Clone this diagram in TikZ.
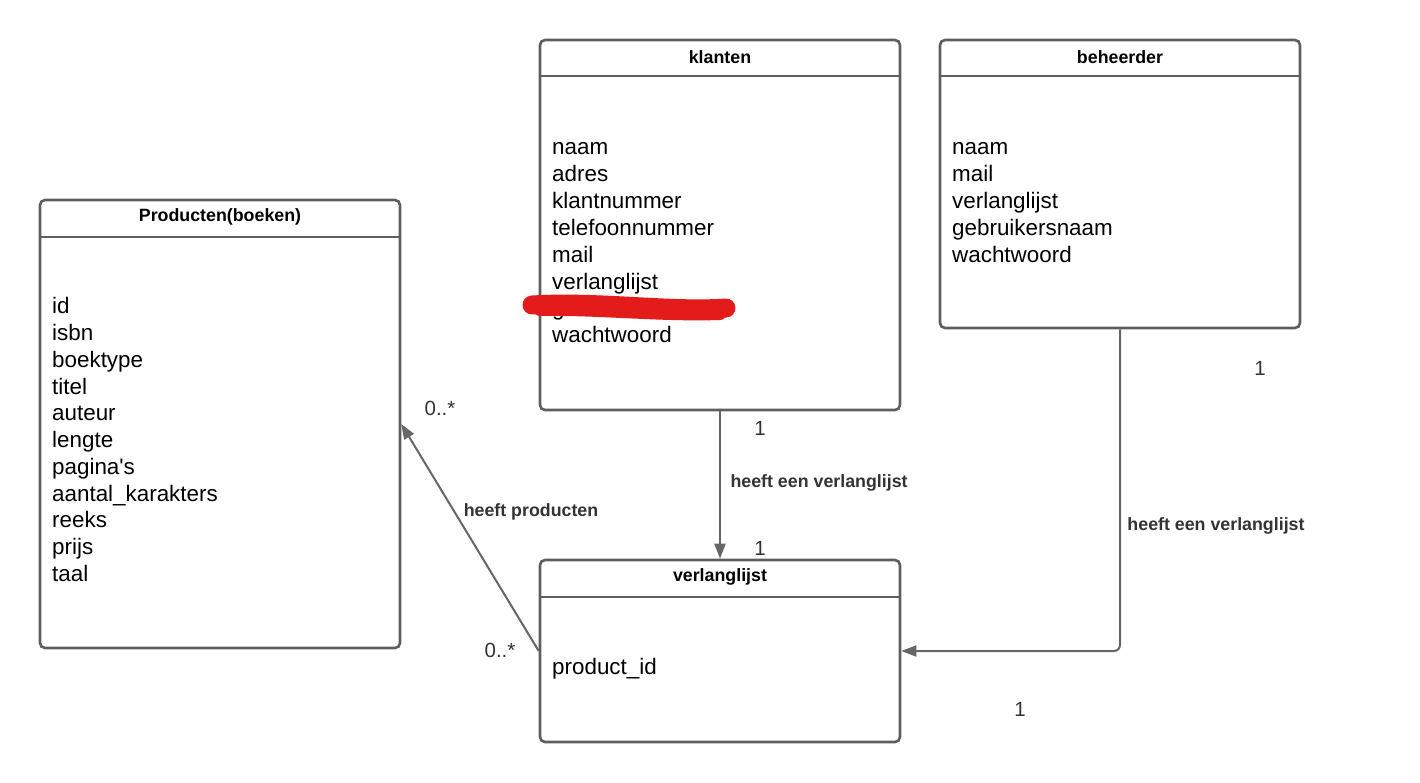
\documentclass[tikz,border=0pt]{standalone}
\usepackage{fontspec}
\setmainfont{Liberation Sans}
\usepackage{xcolor}
\usetikzlibrary{arrows.meta,positioning,calc}

\definecolor{rand}{HTML}{5E5E5E}
\definecolor{lijn}{HTML}{666666}
\definecolor{tekst}{HTML}{333333}
\definecolor{kras}{HTML}{E31B1B}

\begin{document}
\begin{tikzpicture}[x=1pt, y=-1pt,
    box/.style={draw=rand, line width=2.6pt, rounded corners=5pt, fill=white, inner sep=0pt},
    kop/.style={font=\fontsize{17.8}{21}\selectfont\bfseries},
    attr/.style={anchor=base west, inner sep=0pt, font=\fontsize{22.4}{27}\selectfont},
    conn/.style={draw=lijn, line width=2pt, -{Triangle[length=15pt, width=11pt]}},
    rel/.style={text=tekst, font=\fontsize{17.8}{21}\selectfont\bfseries},
    mult/.style={text=tekst, font=\fontsize{20.5}{24}\selectfont}]
    \useasboundingbox (0,0) rectangle (1420,782);

    % Producten(boeken)
    \node[box, minimum width=360pt, minimum height=448pt] (p) at (220, 424) {};
    \draw[rand, line width=2.6pt] (40, 237) -- (400, 237);
    \node[kop] (pk) at (220, 217) {Producten(boeken)};
    \foreach \t [count=\i] in {id, isbn, boektype, titel, auteur, lengte, pagina\textquotesingle s, aantal\_karakters, reeks, prijs, taal}
        \node[attr] (p\i) at (52, 287+26.75*\i) {\t};

    % klanten
    \node[box, minimum width=360pt, minimum height=370pt] (k) at (720, 225) {};
    \draw[rand, line width=2.6pt] (540, 76) -- (900, 76);
    \node[kop] (kk) at (720, 57) {klanten};
    \foreach \t [count=\i] in {naam, adres, klantnummer, telefoonnummer, mail, verlanglijst, gebruikersnaam, wachtwoord}
        \node[attr] (k\i) at (552, 128+26.85*\i) {\t};
    % doorgestreept
    \draw[kras, line width=19pt, line cap=round] (532, 305) .. controls (600, 301) and (670, 312) .. (726, 308);
    \draw[kras, line width=12pt, line cap=round] (540, 310) .. controls (600, 309) and (660, 316) .. (720, 314);

    % beheerder
    \node[box, minimum width=360pt, minimum height=288pt] (b) at (1120, 184) {};
    \draw[rand, line width=2.6pt] (940, 76) -- (1300, 76);
    \node[kop] (bk) at (1120, 57) {beheerder};
    \foreach \t [count=\i] in {naam, mail, verlanglijst, gebruikersnaam, wachtwoord}
        \node[attr] (b\i) at (952, 128+26.85*\i) {\t};

    % verlanglijst
    \node[box, minimum width=360pt, minimum height=182pt] (v) at (720, 651) {};
    \draw[rand, line width=2.6pt] (540, 597) -- (900, 597);
    \node[kop] (vk) at (720, 577) {verlanglijst};
    \node[attr] (v1) at (552, 674) {product\_id};

    % relaties
    \draw[conn] (k) -- (v);
    \draw[conn, rounded corners=6pt] (b) |- (v);
    \draw[conn] (v.west) -- (p.east);

    \node[rel, anchor=west] (r1) at (727, 483) {heeft een verlanglijst};
    \node[rel] (r2) at (1216, 526) {heeft een verlanglijst};
    \node[rel] (r3) at (531, 512) {heeft producten};

    \node[mult] (m1) at (760, 428) {1};
    \node[mult] (m2) at (760, 548) {1};
    \node[mult] (m3) at (1260, 368) {1};
    \node[mult] (m4) at (1020, 709) {1};
    \node[mult] (m5) at (440, 408) {0..*};
    \node[mult] (m6) at (500, 650) {0..*};
\end{tikzpicture}
\end{document}
